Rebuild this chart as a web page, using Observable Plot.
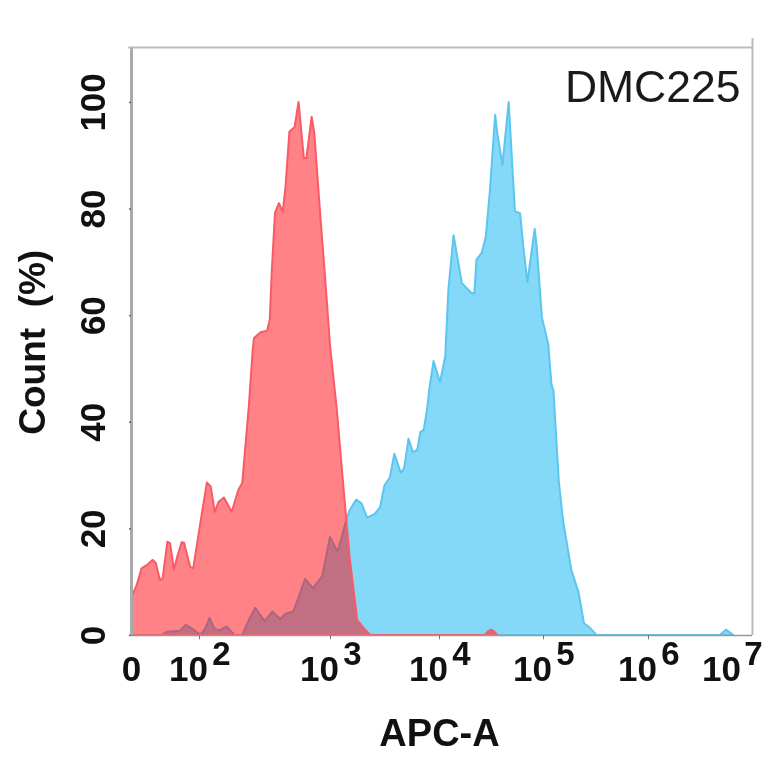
<!DOCTYPE html>
<html><head><meta charset="utf-8">
<script src="https://cdn.jsdelivr.net/npm/d3@7"></script>
<script src="https://cdn.jsdelivr.net/npm/@observablehq/plot@0.6"></script>
<style>html,body{margin:0;padding:0;background:#fff;overflow:hidden}svg{display:block;filter:blur(0.75px)}</style>
</head><body><div id="chart"></div>
<script>
// x values are decade positions on the biexponential axis (2 = 10^2, ...); y is Count (%)
const redX = [0,0,0.17,0.31,0.46,0.64,0.73,0.85,0.93,1.07,1.15,1.26,1.36,1.49,1.56,1.74,1.83,2.01,2.06,2.09,2.12,2.15,2.19,2.25,2.30,2.33,2.38,2.41,2.42,2.47,2.52,2.54,2.555,2.58,2.61,2.64,2.66,2.69,2.73,2.76,2.80,2.82,2.86,2.88,2.93,2.96,3.00,3.06,3.12,3.18,3.25,3.31,3.37,4.44,4.47,4.50,4.53,4.56];
const redY = [0,6.9,9.4,12.5,13.1,14.1,13.5,10.3,10.6,17.5,17.2,12.3,14.7,17.4,17.3,12.8,12.5,21,28.6,27.8,23.1,25,25.8,23.1,27.2,28.5,42.8,53.5,55.7,56.8,57.1,59.1,67.9,79.2,81,79.4,84,94.4,95.3,100,89.5,89.5,97.2,94.2,77.3,67.9,54.4,42.8,28.5,14.6,2.8,1.3,0,0,0.7,1,0.7,0];
const blueX = [0.90,1.05,1.44,1.61,1.82,2.01,2.05,2.08,2.12,2.16,2.21,2.27,2.33,2.38,2.43,2.50,2.56,2.62,2.66,2.72,2.81,2.87,2.94,3.00,3.07,3.15,3.18,3.24,3.29,3.34,3.41,3.46,3.50,3.55,3.59,3.65,3.68,3.72,3.76,3.80,3.83,3.86,3.89,3.91,3.95,4.01,4.06,4.09,4.14,4.22,4.31,4.34,4.36,4.41,4.45,4.49,4.54,4.56,4.61,4.67,4.70,4.73,4.78,4.81,4.85,4.92,4.94,4.99,5.05,5.08,5.10,5.15,5.19,5.27,5.34,5.39,5.45,5.51,6.69,6.75,6.82];
const blueY = [0,0.6,0.8,1.9,1.1,0,1.3,3.2,1.1,0.9,1.6,0,0,2.8,5.1,2.6,4.4,3.0,4.0,4.4,10.5,8.8,11,18.4,15.6,21.6,23.4,25.4,24.7,22.0,22.7,24,28.1,29.6,34,30.4,31.3,36.8,34.3,34.7,38.1,38.5,42.2,46,51.4,47.4,52.3,64.7,75,66,64.2,64,70.4,71.7,74.7,83.5,97.6,94.2,88.2,100,89.8,79.5,79.1,73,66.2,76.2,72.8,59.5,54.6,47.1,45.8,29,21.6,12.2,7.9,2.2,1.3,0,0,1,0];
const red = redX.map((x,i)=>({x,y:redY[i]}));
const blue = blueX.map((x,i)=>({x,y:blueY[i]}));

const yTicks = [0,20,40,60,80,100];
const xTickDecades = [2,3,4,5,6];
const xTickExp = ["2","3","4","5","6"];
const lastDecade = 7;
const lastExp = "7";
const title = "DMC225";
const xLabel = "APC-A";
const yLabel = "Count\u00a0\u00a0(%)";
const font = "'Liberation Sans', Arial, sans-serif";
const ink = "#111";

const xPieces = [0,2,3,4,5,6,7];
const xRange = [131,199,330,439,543,648,752];

const chart = Plot.plot({
  width:764, height:764,
  marginLeft:131, marginRight:12, marginTop:47, marginBottom:129,
  style:{fontFamily:font, background:"#fff"},
  x:{type:"linear", domain:xPieces, range:xRange, axis:null},
  y:{type:"linear", domain:[0,110.3], range:[635,47], axis:null},
  marks:[
    Plot.areaY(blue,{x:"x",y:"y",fill:"#84d8f8",stroke:"#5cc6ee",strokeWidth:2}),
    Plot.areaY(red,{x:"x",y:"y",fill:"#ff050f",fillOpacity:0.5,stroke:"#fa5a66",strokeWidth:2}),
    Plot.ruleX([0],{y1:0,y2:110.3,stroke:"#aaa",strokeWidth:3}),
    Plot.ruleY([0],{x1:0,x2:7,stroke:"#999",strokeWidth:1.5}),
    Plot.ruleY([110.3],{x1:-0.08,x2:7,stroke:"#bbb",strokeWidth:2}),
    Plot.ruleX([7],{y1:0,y2:112,stroke:"#bbb",strokeWidth:2}),
    Plot.ruleX(xTickDecades,{y1:0,y2:-0.8,stroke:"#777",strokeWidth:1}),
    Plot.ruleY(yTicks,{x1:-0.06,x2:0,stroke:"#666",strokeWidth:1.5}),
    Plot.text(yTicks,{x:0,y:d=>d,text:d=>String(d),rotate:-90,dx:-38,fontSize:35,fontWeight:"bold",fill:ink}),
    Plot.text([0],{x:0,y:0,text:()=>"0",dy:34,fontSize:35,fontWeight:"bold",fill:ink}),
    Plot.text(xTickDecades,{x:d=>d,y:0,text:()=>"10",dy:34,dx:-11,fontSize:35,fontWeight:"bold",fill:ink}),
    Plot.text(xTickDecades,{x:d=>d,y:0,text:(d,i)=>xTickExp[i],dy:19,dx:22,fontSize:33,fontWeight:"bold",fill:ink}),
    Plot.text([lastDecade],{x:d=>d,y:0,text:()=>"10",dy:34,dx:-31,fontSize:35,fontWeight:"bold",fill:ink}),
    Plot.text([lastDecade],{x:d=>d,y:0,text:()=>lastExp,dy:19,dx:1,fontSize:33,fontWeight:"bold",fill:ink}),
    Plot.text([title],{x:7,y:110.3,text:d=>d,textAnchor:"end",dx:-12,dy:40,fontSize:44.5,fill:"#1a1a1a"}),
    Plot.text([xLabel],{x:4,y:0,text:d=>d,dy:98,fontSize:38,fontWeight:"bold",fill:ink}),
    Plot.text([yLabel],{x:0,y:55,text:d=>d,rotate:-90,dx:-98,fontSize:37,fontWeight:"bold",fill:ink})
  ]
});
document.getElementById("chart").append(chart);
</script></body></html>
